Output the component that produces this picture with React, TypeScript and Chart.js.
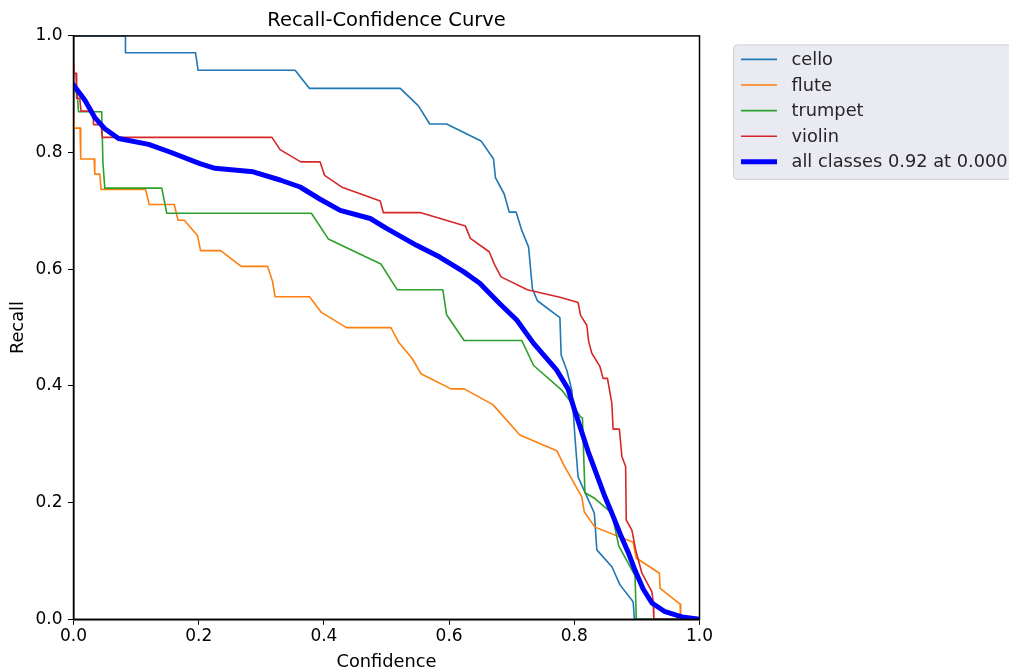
import React, { useEffect, useRef } from "react";
import { Chart, registerables } from "chart.js";

Chart.register(...registerables);

const FONT = "'DejaVu Sans', 'Noto Sans', sans-serif";

const titleText = "Recall-Confidence Curve";
const xAxisTitle = "Confidence";
const yAxisTitle = "Recall";
const tickValues = [0, 0.2, 0.4, 0.6, 0.8, 1.0];

const seriesLabels = ["cello", "flute", "trumpet", "violin", "all classes 0.92 at 0.000"];
const seriesColors = ["#1f77b4", "#ff7f0e", "#2ca02c", "#d62728", "#0000ff"];

const celloX = [0, 0.083, 0.083, 0.195, 0.199, 0.354, 0.377, 0.522, 0.551, 0.569, 0.596, 0.651, 0.671, 0.674, 0.688, 0.696, 0.707, 0.716, 0.727, 0.733, 0.741, 0.777, 0.779, 0.788, 0.796, 0.801, 0.806, 0.832, 0.836, 0.860, 0.873, 0.894, 0.896, 1.0];
const celloY = [1.0, 1.0, 0.971, 0.971, 0.941, 0.941, 0.910, 0.910, 0.880, 0.849, 0.849, 0.820, 0.789, 0.757, 0.729, 0.698, 0.698, 0.667, 0.638, 0.567, 0.546, 0.517, 0.453, 0.427, 0.393, 0.313, 0.244, 0.182, 0.119, 0.090, 0.059, 0.030, 0, 0];

const fluteX = [0, 0.001, 0.0105, 0.0115, 0.033, 0.034, 0.042, 0.044, 0.115, 0.121, 0.161, 0.167, 0.177, 0.198, 0.203, 0.235, 0.268, 0.310, 0.318, 0.322, 0.377, 0.396, 0.436, 0.507, 0.520, 0.541, 0.555, 0.603, 0.624, 0.670, 0.713, 0.772, 0.784, 0.812, 0.816, 0.833, 0.894, 0.899, 0.936, 0.937, 0.969, 0.970, 1.0];
const fluteY = [0.870, 0.842, 0.842, 0.789, 0.789, 0.763, 0.763, 0.737, 0.737, 0.711, 0.711, 0.684, 0.684, 0.658, 0.632, 0.632, 0.605, 0.605, 0.579, 0.553, 0.553, 0.526, 0.500, 0.500, 0.474, 0.447, 0.421, 0.395, 0.395, 0.368, 0.316, 0.289, 0.263, 0.210, 0.184, 0.158, 0.132, 0.105, 0.079, 0.053, 0.026, 0, 0];

const trumpetX = [0, 0.006, 0.008, 0.045, 0.047, 0.050, 0.141, 0.149, 0.380, 0.407, 0.491, 0.517, 0.590, 0.596, 0.624, 0.716, 0.735, 0.780, 0.794, 0.810, 0.813, 0.817, 0.833, 0.860, 0.871, 0.897, 0.899, 1.0];
const trumpetY = [0.913, 0.900, 0.870, 0.870, 0.783, 0.739, 0.739, 0.696, 0.696, 0.652, 0.609, 0.565, 0.565, 0.522, 0.478, 0.478, 0.435, 0.393, 0.373, 0.347, 0.345, 0.217, 0.207, 0.182, 0.126, 0.075, 0, 0];

const violinX = [0, 0.001, 0.004, 0.005, 0.010, 0.012, 0.031, 0.032, 0.044, 0.046, 0.317, 0.330, 0.363, 0.394, 0.401, 0.430, 0.490, 0.495, 0.555, 0.626, 0.634, 0.664, 0.673, 0.683, 0.725, 0.777, 0.806, 0.810, 0.820, 0.823, 0.828, 0.841, 0.846, 0.853, 0.860, 0.862, 0.872, 0.876, 0.882, 0.883, 0.892, 0.898, 0.908, 0.924, 0.926, 0.927, 1.0];
const violinY = [0.958, 0.936, 0.936, 0.893, 0.893, 0.871, 0.871, 0.848, 0.848, 0.826, 0.826, 0.805, 0.784, 0.784, 0.761, 0.740, 0.717, 0.697, 0.697, 0.674, 0.653, 0.630, 0.607, 0.587, 0.565, 0.552, 0.543, 0.521, 0.504, 0.476, 0.456, 0.433, 0.413, 0.413, 0.370, 0.326, 0.326, 0.279, 0.262, 0.170, 0.153, 0.119, 0.079, 0.047, 0.030, 0, 0];

const allX = [0, 0.018, 0.034, 0.050, 0.072, 0.120, 0.154, 0.202, 0.226, 0.287, 0.330, 0.362, 0.394, 0.426, 0.474, 0.500, 0.548, 0.585, 0.623, 0.649, 0.681, 0.708, 0.735, 0.772, 0.790, 0.800, 0.822, 0.849, 0.860, 0.873, 0.886, 0.897, 0.910, 0.924, 0.945, 0.972, 1.0];
const allY = [0.916, 0.890, 0.860, 0.841, 0.824, 0.814, 0.801, 0.781, 0.773, 0.767, 0.753, 0.741, 0.720, 0.701, 0.687, 0.670, 0.641, 0.621, 0.596, 0.576, 0.541, 0.513, 0.473, 0.427, 0.395, 0.360, 0.288, 0.210, 0.182, 0.147, 0.115, 0.084, 0.052, 0.028, 0.013, 0.004, 0];

const seriesX = [celloX, fluteX, trumpetX, violinX, allX];
const seriesY = [celloY, fluteY, trumpetY, violinY, allY];
const seriesWidths = [1.6, 1.6, 1.6, 1.6, 5];

const toPoints = (xs: number[], ys: number[]) => xs.map((x, i) => ({ x, y: ys[i] }));

const spinePlugin = {
  id: "spines",
  afterDatasetsDraw(chart: any) {
    const { ctx, chartArea: a } = chart;
    ctx.save();
    ctx.strokeStyle = "#000";
    ctx.lineWidth = 1.5;
    ctx.strokeRect(a.left, a.top, a.right - a.left, a.bottom - a.top);
    ctx.restore();
  },
};

const legendBoxPlugin = {
  id: "legendBox",
  afterDraw(chart: any) {
    const { ctx, chartArea: a } = chart;
    const ds = chart.data.datasets;
    const left = a.right + 34;
    const top = a.top + 9;
    const rowH = 25.6;
    const height = 14.5 + (ds.length - 1) * rowH + 17.6;
    const width = 320;
    const r = 4;
    ctx.save();
    ctx.beginPath();
    ctx.moveTo(left + r, top);
    ctx.lineTo(left + width - r, top);
    ctx.arcTo(left + width, top, left + width, top + r, r);
    ctx.lineTo(left + width, top + height - r);
    ctx.arcTo(left + width, top + height, left + width - r, top + height, r);
    ctx.lineTo(left + r, top + height);
    ctx.arcTo(left, top + height, left, top + height - r, r);
    ctx.lineTo(left, top + r);
    ctx.arcTo(left, top, left + r, top, r);
    ctx.closePath();
    ctx.fillStyle = "#eaeaf2";
    ctx.fill();
    ctx.strokeStyle = "#cfcfd4";
    ctx.lineWidth = 1;
    ctx.stroke();
    ds.forEach((d: any, i: number) => {
      const y = top + 14.5 + i * rowH;
      ctx.beginPath();
      ctx.strokeStyle = d.borderColor;
      ctx.lineWidth = d.borderWidth;
      ctx.lineCap = "butt";
      ctx.moveTo(left + 7.5, y);
      ctx.lineTo(left + 43.5, y);
      ctx.stroke();
      ctx.fillStyle = "#262626";
      ctx.font = `17.8px ${FONT}`;
      ctx.textBaseline = "middle";
      ctx.textAlign = "left";
      ctx.fillText(d.label, left + 58, y + 1);
    });
    ctx.restore();
  },
};

export default function App() {
  const ref = useRef<HTMLCanvasElement | null>(null);

  useEffect(() => {
    if (!ref.current) return;
    const datasets = seriesLabels.map((label, i) => ({
      label,
      data: toPoints(seriesX[i], seriesY[i]),
      borderColor: seriesColors[i],
      backgroundColor: seriesColors[i],
      borderWidth: seriesWidths[i],
      pointRadius: 0,
      tension: 0,
      fill: false,
      borderJoinStyle: "round" as const,
      borderCapStyle: "round" as const,
      order: seriesLabels.length - 1 - i,
    }));

    const chart = new Chart(ref.current, {
      type: "line",
      data: { datasets },
      plugins: [spinePlugin, legendBoxPlugin],
      options: {
        animation: false,
        responsive: false,
        devicePixelRatio: 1,
        layout: { padding: { left: 0, right: 309.5, top: 0, bottom: 0 } },
        plugins: {
          legend: { display: false },
          tooltip: { enabled: false },
          title: {
            display: true,
            text: titleText,
            color: "#000",
            fullSize: false,
            font: { family: FONT, size: 19.5, weight: "normal", lineHeight: 1.2 },
            padding: { top: 9.5, bottom: 3 },
          },
        },
        scales: {
          x: {
            type: "linear",
            min: 0,
            max: 1,
            afterBuildTicks: (s: any) => {
              s.ticks = tickValues.map((v) => ({ value: v }));
            },
            afterFit: (s: any) => {
              s.height = 49.7;
            },
            ticks: {
              color: "#000",
              font: { family: FONT, size: 17 },
              padding: 2,
              maxRotation: 0,
              callback: (v: any) => Number(v).toFixed(1),
            },
            grid: { drawOnChartArea: false, drawTicks: true, tickLength: 5.5, color: "#000", lineWidth: 1 },
            border: { display: true, color: "#000", width: 1.5 },
            title: {
              display: true,
              text: xAxisTitle,
              color: "#000",
              font: { family: FONT, size: 17.8, lineHeight: 0.78 },
              padding: { top: 0, bottom: 0 },
            },
          },
          y: {
            type: "linear",
            min: 0,
            max: 1,
            afterBuildTicks: (s: any) => {
              s.ticks = tickValues.map((v) => ({ value: v }));
            },
            afterFit: (s: any) => {
              s.width = 73.5;
            },
            ticks: {
              color: "#000",
              font: { family: FONT, size: 17 },
              padding: 5.5,
              callback: (v: any) => Number(v).toFixed(1),
            },
            grid: { drawOnChartArea: false, drawTicks: true, tickLength: 5.5, color: "#000", lineWidth: 1 },
            border: { display: true, color: "#000", width: 1.5 },
            title: {
              display: true,
              text: yAxisTitle,
              color: "#000",
              font: { family: FONT, size: 17.8, lineHeight: 1.2 },
              padding: { top: 7.3, bottom: 0 },
            },
          },
        },
      },
    } as any);
    return () => chart.destroy();
  }, []);

  return (
    <div style={{ position: "fixed", left: 0, top: 0, width: 1009, height: 669, background: "#fff" }}>
      <canvas ref={ref} width={1009} height={669} style={{ width: 1009, height: 669, display: "block" }} />
    </div>
  );
}
